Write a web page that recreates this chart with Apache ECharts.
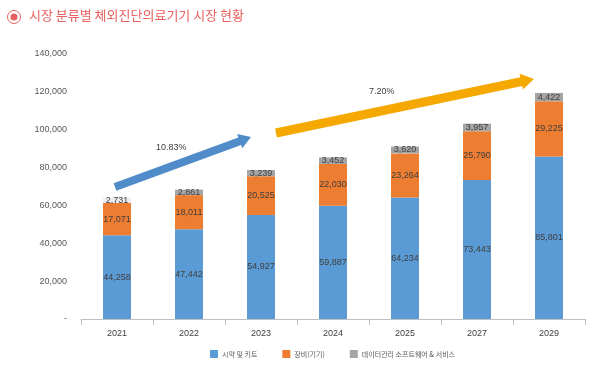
<!DOCTYPE html>
<html><head><meta charset="utf-8">
<script src="https://cdn.jsdelivr.net/npm/echarts@6/dist/echarts.min.js"></script>
<style>html,body{margin:0;padding:0;background:#fff}#c{width:600px;height:373px}</style>
</head><body><div id="c"></div>
<script>
const categories = ['2021','2022','2023','2024','2025','2027','2029'];
const reagents = [44258,47442,54927,59887,64234,73443,85801];
const equipment = [17071,18011,20525,22030,23264,25790,29225];
const software = [2731,2861,3239,3452,3620,3957,4422];
const seriesNames = ['시약 및 키트','장비(기기)','데이터관리 소프트웨어 & 서비스'];
const yTicks = [0,20000,40000,60000,80000,100000,120000,140000];
const growthLabels = ['10.83%','7.20%'];

const font = '"Liberation Sans Narrow","Liberation Sans",Arial,sans-serif';
const chart = echarts.init(document.getElementById('c'));
const fmt = v => v.toLocaleString('en-US');
const lbl = {show:true, position:'inside', color:'#404040', fontSize:9, fontFamily:font, formatter:p=>fmt(p.value)};

function arrow(x1,y1,x2,y2,body,head,headLen,color){
  const dx=x2-x1, dy=y2-y1, L=Math.hypot(dx,dy), ux=dx/L, uy=dy/L, nx=-uy, ny=ux;
  const bx=x2-ux*headLen, by=y2-uy*headLen;
  const pts=[[x1+nx*body/2,y1+ny*body/2],[bx+nx*body/2,by+ny*body/2],[bx+nx*head/2,by+ny*head/2],[x2,y2],
    [bx-nx*head/2,by-ny*head/2],[bx-nx*body/2,by-ny*body/2],[x1-nx*body/2,y1-ny*body/2]];
  return {type:'polygon', shape:{points:pts}, style:{fill:color}, z:10};
}

chart.setOption({
  animation:false,
  textStyle:{fontFamily:font},
  grid:{left:81,right:15,top:54,bottom:54},
  xAxis:{type:'category', data:categories,
    axisLine:{lineStyle:{color:'#bfbfbf'}},
    axisTick:{show:true, length:6, lineStyle:{color:'#bfbfbf'}},
    axisLabel:{color:'#404040', fontSize:9, margin:10, fontFamily:font}},
  yAxis:{type:'value', min:0, max:140000, interval:20000,
    axisLine:{show:false}, axisTick:{show:false}, splitLine:{show:false},
    axisLabel:{color:'#595959', fontSize:9, margin:14, fontFamily:font, formatter:v=>v===0?'-':fmt(v)}},
  legend:{bottom:10, left:205, icon:'rect', itemWidth:8, itemHeight:8, itemGap:25,
    textStyle:{color:'#595959', fontSize:7, fontFamily:'"Noto Sans CJK KR",sans-serif', padding:[0,0,0,-1]},
    data:seriesNames},
  series:[
    {name:seriesNames[0], type:'bar', stack:'a', barWidth:28, data:reagents, itemStyle:{color:'#5b9bd5'}, label:lbl},
    {name:seriesNames[1], type:'bar', stack:'a', data:equipment, itemStyle:{color:'#ed7d31'}, label:lbl},
    {name:seriesNames[2], type:'bar', stack:'a',
      data:software.map((v,i)=>i===0?{value:v,itemStyle:{color:'#ececf2'}}:v),
      itemStyle:{color:'#a5a5a5'}, label:lbl}
  ],
  graphic:[
    {type:'circle', shape:{cx:14,cy:17,r:6.5}, style:{fill:'none',stroke:'#e8605f',lineWidth:1}},
    {type:'circle', shape:{cx:14,cy:17,r:3.5}, style:{fill:'#e8605f'}},
    {type:'text', left:29, top:9, style:{text:'시장 분류별 체외진단의료기기 시장 현황', fill:'#e8605f', fontSize:13, fontFamily:'"Noto Sans CJK KR",sans-serif'}},
    arrow(115,187,251,137,8,15,12,'#4f8cc9'),
    arrow(276,133,534,79,9,16,13,'#f5a800'),
    {type:'text', x:156, y:143, style:{text:growthLabels[0], fill:'#404040', fontSize:9, fontFamily:font}},
    {type:'text', x:369, y:87, style:{text:growthLabels[1], fill:'#404040', fontSize:9, fontFamily:font}}
  ]
});
</script></body></html>
